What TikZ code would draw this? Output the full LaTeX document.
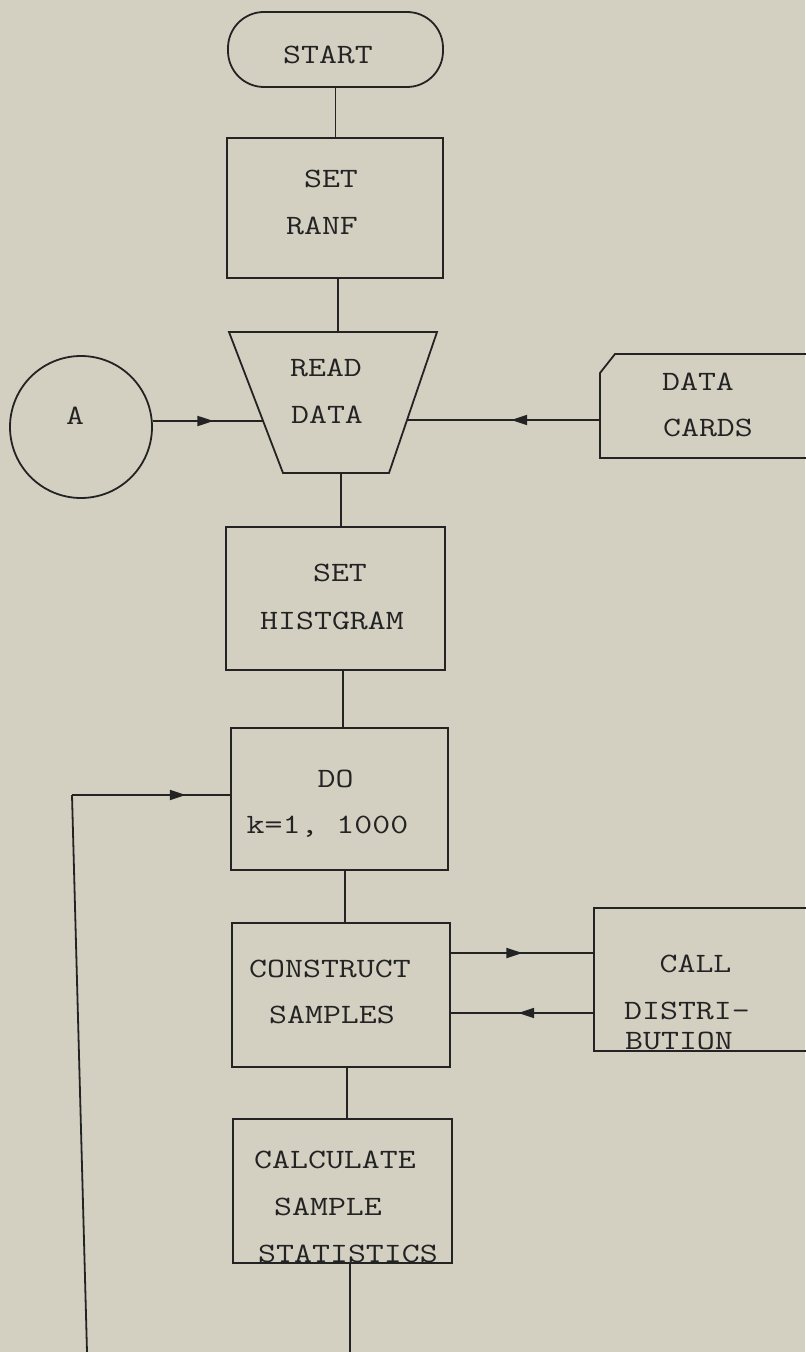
\documentclass[tikz,border=0pt]{standalone}
\usepackage{graphicx}
\usetikzlibrary{arrows.meta,decorations.markings}
\definecolor{paper}{RGB}{211,208,194}
\definecolor{ink}{RGB}{35,35,35}
\newcommand{\tw}[1]{\scalebox{1.245}[1]{#1}}
\begin{document}
\begin{tikzpicture}[x=0.5pt,y=-0.5pt,
  box/.style={draw=ink, line width=0.9pt, inner sep=0pt},
  conn/.style={draw=ink, line width=0.9pt},
  tx/.style={anchor=base, inner sep=0pt, text=ink, font=\ttfamily\fontsize{14}{16}\selectfont},
  midarrow/.style={postaction={decorate}, decoration={markings, mark=at position #1 with {\arrow{Triangle[length=8pt,width=5pt]}}}}]
\fill[paper] (0,0) rectangle (805,1352);
\useasboundingbox (0,0) rectangle (805,1352);

% shapes
\node[box, rounded corners=18pt, minimum width=107.5pt, minimum height=37.5pt] (start) at (335.5,49.5) {};
\node[box, minimum width=108pt, minimum height=70pt] (ranf) at (335,208) {};
\node[box, circle, minimum size=71pt] (a) at (81,427) {};
\draw[conn] (229,332) -- (437,332) -- (389,473) -- (283,473) -- cycle;
\coordinate (rdT) at (338,332);
\coordinate (rdB) at (341,473);
\coordinate (rdL) at (263,421);
\coordinate (rdR) at (407,420);
\draw[conn] (812,354) -- (615,354) -- (600,373) -- (600,458) -- (812,458);
\coordinate (dcL) at (600,420);
\node[box, minimum width=109.5pt, minimum height=71.5pt] (hist) at (335.5,598.5) {};
\node[box, minimum width=108.5pt, minimum height=71pt] (do) at (339.5,799) {};
\node[box, minimum width=109pt, minimum height=72pt] (cons) at (341,995) {};
\draw[conn] (812,908) -- (594,908) -- (594,1051) -- (812,1051);
\coordinate (cu) at (594,953);
\coordinate (cl) at (594,1013);
\node[box, minimum width=109.5pt, minimum height=72pt] (calc) at (342.5,1191) {};

% connectors
\draw[conn] (start.south) -- (start.south |- ranf.north);
\draw[conn] (rdT |- ranf.south) -- (rdT);
\draw[conn] (rdB) -- (rdB |- hist.north);
\coordinate (x4) at (343,700);
\draw[conn] (x4 |- hist.south) -- (x4 |- do.north);
\coordinate (x5) at (345,900);
\draw[conn] (x5 |- do.south) -- (x5 |- cons.north);
\coordinate (x6) at (347,1100);
\draw[conn] (x6 |- cons.south) -- (x6 |- calc.north);
\coordinate (bot) at (350,1352);
\draw[conn] (bot |- calc.south) -- (bot);
\draw[conn, midarrow=0.55] (rdL -| a.east) -- (rdL);
\draw[conn, midarrow=0.46] (dcL) -- (rdR);
\coordinate (fbB) at (87,1352);
\coordinate (fbC) at (72,795);
\draw[conn] (fbB) -- (fbC);
\draw[conn, midarrow=0.72] (fbC) -- (fbC -| do.west);
\draw[conn, midarrow=0.5] (cu -| cons.east) -- (cu);
\draw[conn, midarrow=0.53] (cl) -- (cl -| cons.east);

% texts
\node[tx] (t1) at (328,64) {\tw{START}};
\node[tx] (t2) at (331,188) {\tw{SET}};
\node[tx] (t3) at (322,235) {\tw{RANF}};
\node[tx] (t4) at (75,424) {\tw{A}};
\node[tx] (t5) at (326,377) {\tw{READ}};
\node[tx] (t6) at (327,423) {\tw{DATA}};
\node[tx] (t7) at (698,391) {\tw{DATA}};
\node[tx] (t8) at (708,437) {\tw{CARDS}};
\node[tx] (t9) at (340,581) {\tw{SET}};
\node[tx] (t10) at (332,629) {\tw{HISTGRAM}};
\node[tx] (t11) at (335.5,787) {\tw{DO}};
\node[tx] (t12) at (327.5,833) {\tw{k=1, 1000}};
\node[tx] (t13) at (330,977) {\tw{CONSTRUCT}};
\node[tx] (t14) at (332,1023) {\tw{SAMPLES}};
\node[tx] (t15) at (695.5,972) {\tw{CALL}};
\node[tx] (t16) at (687,1019) {\tw{DISTRI-}};
\node[tx] (t17) at (679,1049) {\tw{BUTION}};
\node[tx] (t18) at (335,1168) {\tw{CALCULATE}};
\node[tx] (t19) at (328,1215) {\tw{SAMPLE}};
\node[tx] (t20) at (348,1262) {\tw{STATISTICS}};
\end{tikzpicture}
\end{document}
